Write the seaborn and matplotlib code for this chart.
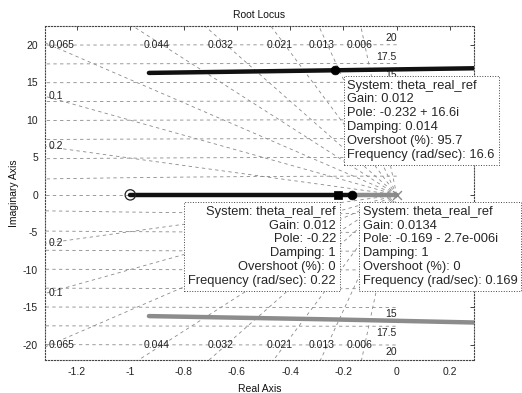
import numpy as np
import pandas as pd
import matplotlib
matplotlib.use("Agg")
import matplotlib.pyplot as plt
import seaborn as sns

# ---- root locus branches (real part, imaginary part) ----
upper_re = [-0.93, -0.232, 0.35]
upper_im = [16.25, 16.6, 16.9]
lower_re = [-0.93, -0.232, 0.35]
lower_im = [-16.15, -16.6, -17.05]
real_left_re = [-1.0, -0.22, -0.169]
real_left_im = [0.0, 0.0, 0.0]
real_right_re = [-0.169, -0.08, 0.0]
real_right_im = [0.0, 0.0, 0.0]

# open-loop zero and pole inside the view
zero_re, zero_im = [-1.0], [0.0]
pole_re, pole_im = [0.0], [0.0]

# grid: damping ratios and natural frequencies
damping = [0.006, 0.013, 0.021, 0.032, 0.044, 0.065, 0.1, 0.2]
wn = [2.5, 5, 7.5, 10, 12.5, 15, 17.5, 20]
wn_labeled = [15, 17.5, 20]

# data tips
tip_re = [-0.232, -0.22, -0.169]
tip_im = [16.6, 0.0, 0.0]
tip_marker = ["o", "s", "o"]
tip_lines = [
    ["System: theta_real_ref", "Gain: 0.012", "Pole: -0.232 + 16.6i",
     "Damping: 0.014", "Overshoot (%): 95.7", "Frequency (rad/sec): 16.6"],
    ["System: theta_real_ref", "Gain: 0.012", "Pole: -0.22",
     "Damping: 1", "Overshoot (%): 0", "Frequency (rad/sec): 0.22"],
    ["System: theta_real_ref", "Gain: 0.0134", "Pole: -0.169 - 2.7e-006i",
     "Damping: 1", "Overshoot (%): 0", "Frequency (rad/sec): 0.169"],
]

x_ticks = [-1.2, -1, -0.8, -0.6, -0.4, -0.2, 0, 0.2]
x_tick_labels = ["-1.2", "-1", "-0.8", "-0.6", "-0.4", "-0.2", "0", "0.2"]
y_ticks = [-20, -15, -10, -5, 0, 5, 10, 15, 20]
y_tick_labels = ["-20", "-15", "-10", "-5", "0", "5", "10", "15", "20"]

XMIN, XMAX = -1.32, 0.29
YMIN, YMAX = -22.0, 22.5

sns.set_style("white")
plt.rcParams["font.family"] = ["Liberation Sans", "DejaVu Sans"]
plt.rcParams["axes.unicode_minus"] = False

fig = plt.figure(figsize=(5.22, 3.93), dpi=100)
ax = fig.add_axes([45 / 522, 1 - 360 / 393, (474 - 45) / 522, (360 - 26) / 393])

grid_kw = dict(color="#8a8a8a", lw=0.6, ls=(0, (4, 4)), zorder=1)

# natural frequency circles (left half plane)
th = np.linspace(np.pi / 2, 3 * np.pi / 2, 721)
for w in wn:
    ax.plot(w * np.cos(th), w * np.sin(th), **grid_kw)
ax.plot([XMIN - 1, 0], [0, 0], **grid_kw)

# constant damping rays
for z in damping:
    s = np.sqrt(1 - z ** 2)
    r = np.array([0, 30])
    ax.plot(-z * r, s * r, **grid_kw)
    ax.plot(-z * r, -s * r, **grid_kw)

lab_fs = 7.5
for z in damping:
    s = np.sqrt(1 - z ** 2)
    xr = -20 * z
    if xr < XMIN + 0.1:
        yl = min(20.0, -XMIN * s / z)
        for sg in (1, -1):
            ax.text(XMIN + 0.012, sg * yl, f"{z:g}", fontsize=lab_fs, color="#222",
                    ha="left", va="center", zorder=2)
    else:
        for sg in (1, -1):
            ax.text(xr - 0.02, sg * 20.0, f"{z:g}", fontsize=lab_fs, color="#222",
                    ha="center", va="center", zorder=2)

for w in wn_labeled:
    ax.text(0.0, w + 0.25, f"{w:g}", fontsize=lab_fs, color="#222",
            ha="right", va="bottom", zorder=2)
    ax.text(0.0, -w - 0.25, f"{w:g}", fontsize=lab_fs, color="#222",
            ha="right", va="top", zorder=2)

# locus branches
branches = pd.concat([
    pd.DataFrame({"re": upper_re, "im": upper_im, "branch": "upper"}),
    pd.DataFrame({"re": lower_re, "im": lower_im, "branch": "lower"}),
    pd.DataFrame({"re": real_left_re, "im": real_left_im, "branch": "real1"}),
    pd.DataFrame({"re": real_right_re, "im": real_right_im, "branch": "real2"}),
])
palette = {"upper": "#111111", "lower": "#8c8c8c", "real1": "#111111", "real2": "#8c8c8c"}
sns.lineplot(data=branches, x="re", y="im", hue="branch", units="branch",
             estimator=None, sort=False, palette=palette, lw=3.2, legend=False,
             ax=ax, zorder=4)

# zero and pole markers
sns.scatterplot(x=zero_re, y=zero_im, marker="o", s=55, facecolor="none",
                edgecolor="#222", linewidth=0.9, ax=ax, zorder=5)
sns.scatterplot(x=pole_re, y=pole_im, marker="x", s=40, color="#888",
                linewidth=1.0, ax=ax, zorder=5)

# data tip markers
for xr, yi, m in zip(tip_re, tip_im, tip_marker):
    sns.scatterplot(x=[xr], y=[yi], marker=m, s=40, color="black",
                    edgecolor="black", ax=ax, zorder=6)

tip_fs = 9.3
box = dict(boxstyle="square,pad=0.3", fc="white", ec="#444", lw=0.7, ls=":")
ax.text(-0.185, 15.35, "\n".join(tip_lines[0]), fontsize=tip_fs, ha="left",
        va="top", linespacing=1.2, bbox=box, zorder=7, clip_on=False)
ax.text(-0.228, -1.45, "\n".join(tip_lines[1]), fontsize=tip_fs, ha="right",
        va="top", linespacing=1.2, bbox=box, zorder=7, clip_on=False,
        multialignment="right")
ax.text(-0.128, -1.45, "\n".join(tip_lines[2]), fontsize=tip_fs, ha="left",
        va="top", linespacing=1.2, bbox=box, zorder=7, clip_on=False)

ax.set_xlim(XMIN, XMAX)
ax.set_ylim(YMIN, YMAX)
ax.set_xticks(x_ticks)
ax.set_xticklabels(x_tick_labels)
ax.set_yticks(y_ticks)
ax.set_yticklabels(y_tick_labels)
ax.tick_params(direction="in", length=3, width=0.6, labelsize=7.5,
               colors="#222", top=True, right=True, pad=5)
for sp in ax.spines.values():
    sp.set_linestyle(":")
    sp.set_color("#444")
    sp.set_linewidth(0.8)

ax.set_title("Root Locus", fontsize=7.5, pad=6, color="#111")
ax.set_xlabel("Real Axis", fontsize=7.5, labelpad=5, color="#111")
ax.set_ylabel("Imaginary Axis", fontsize=7.5, labelpad=3, color="#111")

fig.savefig("out.png", dpi=100)
